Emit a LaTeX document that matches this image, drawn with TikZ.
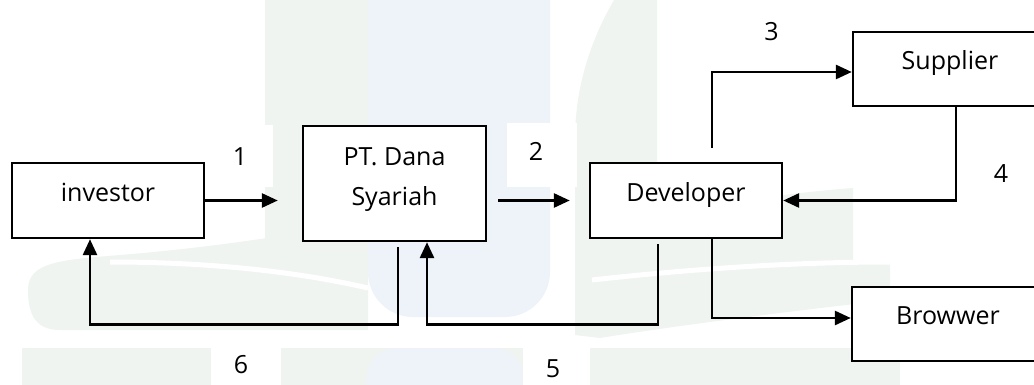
\documentclass[tikz,border=0pt]{standalone}
\usepackage{fontspec}
\setmainfont{Open Sans}
\usetikzlibrary{arrows.meta}
\definecolor{wmg}{RGB}{239,244,241}
\definecolor{wmb}{RGB}{238,243,250}
\begin{document}
\begin{tikzpicture}[x=1pt,y=-1pt,
  box/.style={draw=black, line width=2.4pt, fill=white, rectangle, inner sep=0pt,
    font=\fontsize{25pt}{40pt}\selectfont, text height=17.85pt, text depth=16.3pt},
  num/.style={inner sep=0pt, font=\fontsize{25pt}{30pt}\selectfont,
    text height=17.85pt, text depth=0pt},
  arr/.style={line width=2.8pt, -{Triangle[length=16pt,width=14pt]}},
  ]
\useasboundingbox (0,0) rectangle (1034,385);
\clip (0,0) rectangle (1034,385);
\fill[white] (0,0) rectangle (1034,385);
% faint watermark
\fill[wmg] (265,-10) rectangle (368,250);
\fill[wmg] (28,290) .. controls (28,262) and (60,260) .. (120,255)
  .. controls (220,247) and (300,233) .. (368,222) -- (368,330) -- (60,330)
  .. controls (36,330) and (28,315) .. (28,290) -- cycle;
\draw[white, line width=5pt] (110,262) .. controls (200,262) and (290,270) .. (368,288);
\fill[wmb, rounded corners=45pt] (368,-80) rectangle (550,317);
\fill[wmg] (22,348) rectangle (900,400);
\fill[wmb, rounded corners=30pt] (367,348) rectangle (523,440);
\fill[wmg] (575,335) -- (575,140) .. controls (575,80) and (595,30) .. (620,-10) -- (657,-10)
  -- (657,215) .. controls (740,200) and (800,192) .. (853,188) -- (853,262) -- (890,262)
  -- (890,300) .. controls (800,310) and (680,325) .. (600,338) -- cycle;
\draw[white, line width=5pt] (592,280) .. controls (700,268) and (800,262) .. (890,262);
% white areas behind the numbers
\fill[white] (207,125) rectangle (273,187);
\fill[white] (507,123) rectangle (577,187);
\fill[white] (211,348) rectangle (281,390);
\fill[white] (523,343) rectangle (590,390);
% boxes
\node[box, minimum width=192pt, minimum height=75pt] (inv) at (108,200.5) {investor};
\node[box, minimum width=183pt, minimum height=115pt,
  label={[font=\fontsize{25pt}{40pt}\selectfont, align=center, yshift=4.4pt]center:{PT. Dana\\Syariah}}]
  (pt) at (394.5,183.5) {};
\node[box, minimum width=192pt, minimum height=75pt] (dev) at (686,200.5) {Developer};
\node[box, minimum width=194pt, minimum height=74pt] (sup) at (950,69) {Supplier};
\node[box, minimum width=192pt, minimum height=74pt] (bro) at (948,324) {Browwer};
% number labels
\node[num] (n1) at (240,156.5) {1};
\node[num] (n2) at (536,152) {2};
\node[num] (n3) at (771.5,32) {3};
\node[num] (n4) at (1001,174) {4};
\node[num] (n5) at (553,369) {5};
\node[num] (n6) at (241,365) {6};
% connectors
\draw[arr, shorten >=24pt] (inv.east) -- (inv.east -| pt.west);
\draw[arr, shorten <=11pt, shorten >=19pt] (dev.west -| pt.east) -- (dev.west);
\draw[arr] ([xshift=26pt]dev.north) ++(0,-14) |- ([yshift=-3pt]sup.west);
\draw[arr] ([xshift=6pt]sup.south) |- (dev.east);
\draw[arr] ([xshift=26pt]dev.south) |- ([yshift=6pt]bro.west);
\draw[arr] ([xshift=-28pt,yshift=-5pt]dev.south) -- ++(0,80) -| ([xshift=32.5pt]pt.south);
\draw[arr] ([xshift=3.5pt,yshift=-5pt]pt.south) -- ++(0,77) -| ([xshift=-18pt]inv.south);
\end{tikzpicture}
\end{document}
